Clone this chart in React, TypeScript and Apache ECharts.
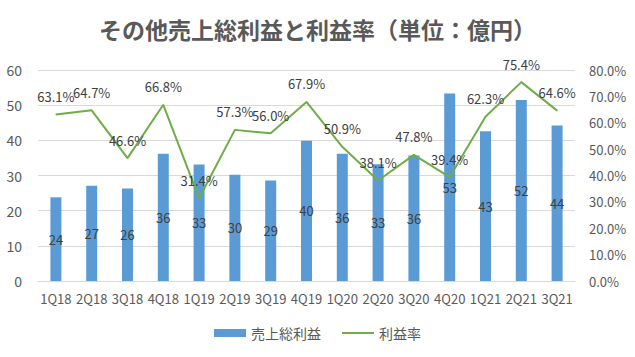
import React, { useEffect, useRef } from "react";
import * as echarts from "echarts";

const categories = ["1Q18","2Q18","3Q18","4Q18","1Q19","2Q19","3Q19","4Q19","1Q20","2Q20","3Q20","4Q20","1Q21","2Q21","3Q21"];
const grossProfit = [23.8, 27.1, 26.3, 36.2, 33.1, 30.2, 28.6, 39.9, 36.2, 33.2, 35.7, 53.3, 42.6, 51.5, 44.2];
const profitRate = [63.1, 64.7, 46.6, 66.8, 31.4, 57.3, 56.0, 67.9, 50.9, 38.1, 47.8, 39.4, 62.3, 75.4, 64.6];
const titleText = "その他売上総利益と利益率（単位：億円）";

const FONT = "'Noto Sans CJK JP', 'Noto Sans', sans-serif";

export default function App() {
  const ref = useRef<HTMLDivElement>(null);
  useEffect(() => {
    if (!ref.current) return;
    const chart = echarts.init(ref.current, undefined, { renderer: "svg" });
    chart.setOption({
      animation: false,
      backgroundColor: "#ffffff",
      textStyle: { fontFamily: FONT },
      title: {
        text: titleText,
        left: "center",
        top: 12,
        textStyle: { fontSize: 23, fontWeight: "bold", color: "#595959", fontFamily: FONT },
      },
      legend: {
        bottom: 12,
        left: "center",
        itemGap: 20,
        itemWidth: 32,
        itemHeight: 8,
        textStyle: { fontSize: 14, color: "#595959", fontFamily: FONT },
        data: [
          { name: "売上総利益", icon: "rect" },
          { name: "利益率", itemStyle: { opacity: 0 }, lineStyle: { color: "#70AD47", width: 2 } },
        ],
      },
      grid: { left: 38, right: 60, top: 70, bottom: 76, containLabel: false },
      xAxis: {
        type: "category",
        data: categories,
        axisLine: { lineStyle: { color: "#D9D9D9" } },
        axisTick: { show: false },
        axisLabel: { color: "#595959", fontSize: 13, margin: 11, interval: 0, fontFamily: FONT },
      },
      yAxis: [
        {
          type: "value",
          min: 0,
          max: 60,
          interval: 10,
          axisLine: { show: false },
          axisTick: { show: false },
          axisLabel: { color: "#595959", fontSize: 14, margin: 16, fontFamily: FONT },
          splitLine: { lineStyle: { color: "#D9D9D9" } },
        },
        {
          type: "value",
          min: 0,
          max: 80,
          interval: 10,
          axisLine: { show: false },
          axisTick: { show: false },
          axisLabel: {
            color: "#595959",
            fontSize: 13,
            margin: 14,
            fontFamily: FONT,
            formatter: (v: number) => v.toFixed(1) + "%",
          },
          splitLine: { show: false },
        },
      ],
      series: [
        {
          name: "売上総利益",
          type: "bar",
          data: grossProfit,
          barWidth: 11,
          itemStyle: { color: "#5B9BD5" },
          label: {
            show: true,
            position: "inside",
            color: "#404040",
            fontSize: 13,
            fontFamily: FONT,
            formatter: (p: any) => String(Math.round(p.value)),
          },
        },
        {
          name: "利益率",
          type: "line",
          yAxisIndex: 1,
          data: profitRate,
          symbol: "circle",
          symbolSize: 1,
          showSymbol: true,
          lineStyle: { color: "#70AD47", width: 2 },
          itemStyle: { color: "#70AD47" },
          label: {
            show: true,
            position: "top",
            distance: 11,
            color: "#404040",
            fontSize: 13,
            fontFamily: FONT,
            formatter: (p: any) => Number(p.value).toFixed(1) + "%",
          },
        },
      ],
    });
    return () => chart.dispose();
  }, []);
  return <div ref={ref} style={{ width: 635, height: 357, position: "absolute", left: 0, top: 0 }} />;
}
